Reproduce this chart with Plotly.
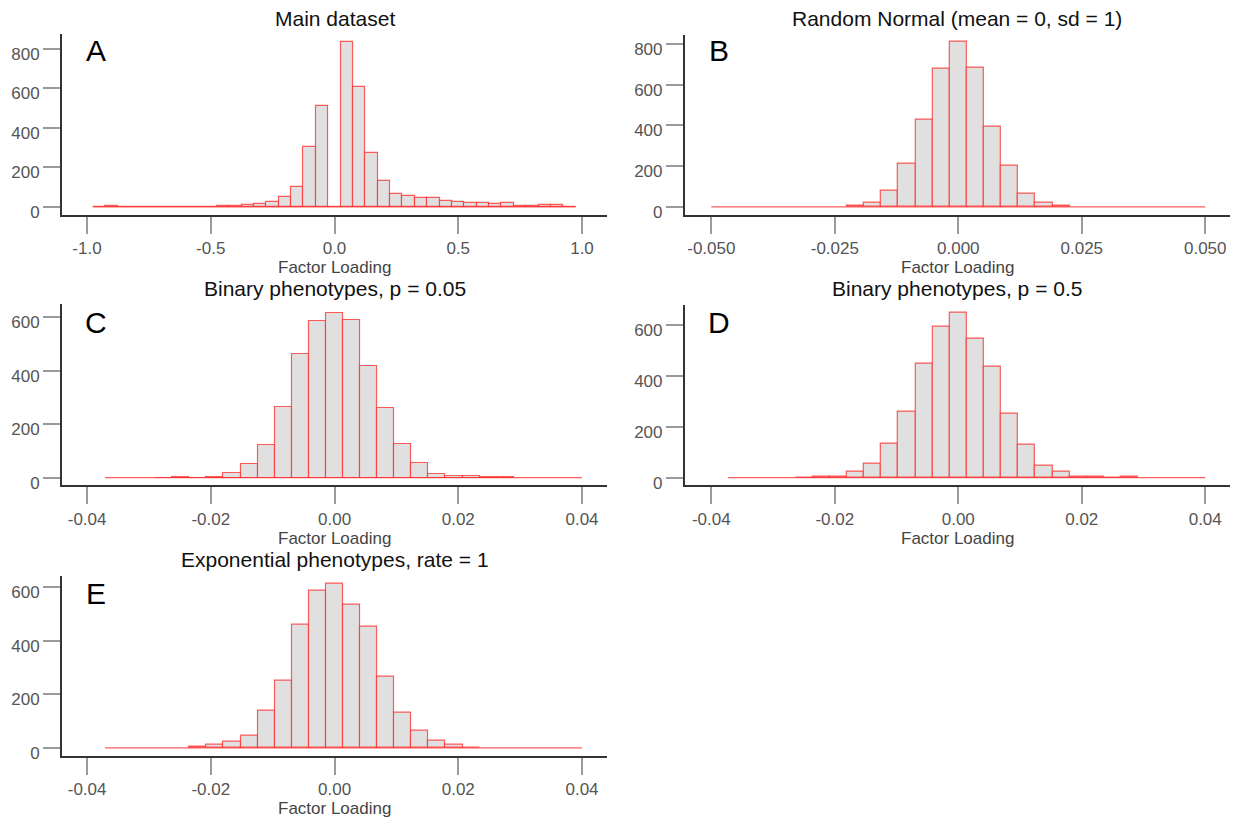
import plotly.graph_objects as go

FONT = "Liberation Sans, Arial, Helvetica, sans-serif"

# ---------------- data (histogram bin counts) ----------------
# Panel A: bins of width 0.05 centred on -0.95 ... 0.95
a_centers = [-0.95, -0.90, -0.85, -0.80, -0.75, -0.70, -0.65, -0.60, -0.55, -0.50,
             -0.45, -0.40, -0.35, -0.30, -0.25, -0.20, -0.15, -0.10, -0.05, 0.00,
             0.05, 0.10, 0.15, 0.20, 0.25, 0.30, 0.35, 0.40, 0.45, 0.50,
             0.55, 0.60, 0.65, 0.70, 0.75, 0.80, 0.85, 0.90, 0.95]
a_counts = [1, 3, 1, 1, 2, 1, 1, 1, 1, 1,
            3, 7, 8, 15, 23, 50, 102, 304, 511, 0,
            833, 606, 270, 132, 67, 55, 47, 43, 32, 25,
            20, 20, 13, 22, 7, 7, 10, 8, 1]
a_width = 0.05
a_span = [-0.975, 0.975]

# Panel B: bin index -6 ... 6
b_bins = [-6, -5, -4, -3, -2, -1, 0, 1, 2, 3, 4, 5, 6]
b_counts = [6, 19, 78, 214, 430, 680, 810, 683, 393, 200, 65, 21, 6]
b_width = 0.003466
b_span = [-0.050, 0.050]

# Panel C: bin index -10 ... 10
c_bins = [-10, -9, -8, -7, -6, -5, -4, -3, -2, -1, 0, 1, 2, 3, 4, 5, 6, 7, 8, 9, 10]
c_counts = [0, 1, 0, 2, 18, 52, 122, 264, 463, 585, 617, 590, 419, 261, 124, 54, 15, 7, 4, 2, 1]
c_width = 0.00276
c_span = [-0.0371, 0.040]

# Panel D: bin index -9 ... 10
d_bins = [-9, -8, -7, -6, -5, -4, -3, -2, -1, 0, 1, 2, 3, 4, 5, 6, 7, 8, 9, 10]
d_counts = [1, 2, 5, 23, 53, 132, 261, 448, 594, 649, 544, 435, 251, 129, 45, 25, 4, 2, 1, 2]
d_width = 0.002773
d_span = [-0.0373, 0.040]

# Panel E: bin index -8 ... 8
e_bins = [-8, -7, -6, -5, -4, -3, -2, -1, 0, 1, 2, 3, 4, 5, 6, 7, 8]
e_counts = [4, 10, 21, 46, 138, 249, 458, 586, 612, 532, 452, 266, 131, 65, 25, 10, 2]
e_width = 0.00276
e_span = [-0.0371, 0.040]

titles = ["Main dataset", "Random Normal (mean = 0, sd = 1)", "Binary phenotypes, p = 0.05",
          "Binary phenotypes, p = 0.5", "Exponential phenotypes, rate = 1"]
letters = ["A", "B", "C", "D", "E"]

a_xticks = [-1.0, -0.5, 0.0, 0.5, 1.0]
a_xlabels = ["-1.0", "-0.5", "0.0", "0.5", "1.0"]
b_xticks = [-0.05, -0.025, 0.0, 0.025, 0.05]
b_xlabels = ["-0.050", "-0.025", "0.000", "0.025", "0.050"]
cde_xticks = [-0.04, -0.02, 0.0, 0.02, 0.04]
cde_xlabels = ["-0.04", "-0.02", "0.00", "0.02", "0.04"]
y_ticks_800 = [0, 200, 400, 600, 800]
y_ticks_600 = [0, 200, 400, 600]

x_axis_label = "Factor Loading"

# ---------------- layout geometry ----------------
W, H = 1237, 824
left_dom = [62.1 / W, 607.0 / W]
right_dom = [684.9 / W, 1230.0 / W]


def ydom(top_px, bottom_px):
    return [1 - bottom_px / H, 1 - top_px / H]


panels = [
    dict(centers=a_centers, counts=a_counts, width=a_width, span=a_span,
         xdom=left_dom, ydom=ydom(34.3, 216.7), xrange=[-1.1006, 1.1010], yrange=[-40, 873.6],
         xticks=a_xticks, xlabels=a_xlabels, yticks=y_ticks_800),
    dict(centers=[k * b_width for k in b_bins], counts=b_counts, width=b_width, span=b_span,
         xdom=right_dom, ydom=ydom(35.0, 216.7), xrange=[-0.05535, 0.05501], yrange=[-38.9, 845],
         xticks=b_xticks, xlabels=b_xlabels, yticks=y_ticks_800),
    dict(centers=[k * c_width for k in c_bins], counts=c_counts, width=c_width, span=c_span,
         xdom=left_dom, ydom=ydom(306.7, 489.3), xrange=[-0.04404, 0.04404], yrange=[-28.2, 649.4],
         xticks=cde_xticks, xlabels=cde_xlabels, yticks=y_ticks_600),
    dict(centers=[k * d_width for k in d_bins], counts=d_counts, width=d_width, span=d_span,
         xdom=right_dom, ydom=ydom(307.3, 489.3), xrange=[-0.04428, 0.04401], yrange=[-29.6, 679.5],
         xticks=cde_xticks, xlabels=cde_xlabels, yticks=y_ticks_600),
    dict(centers=[k * e_width for k in e_bins], counts=e_counts, width=e_width, span=e_span,
         xdom=left_dom, ydom=ydom(580.7, 762.0), xrange=[-0.04404, 0.04404], yrange=[-28.5, 641.8],
         xticks=cde_xticks, xlabels=cde_xlabels, yticks=y_ticks_600),
]

BAR_FILL = "#e0e0e0"
BAR_LINE = "rgba(255,40,40,0.75)"
AXIS_COLOR = "#333333"
TICK_COLOR = "#9a9a9a"
TICKFONT = dict(family=FONT, size=17, color="#555555")

fig = go.Figure()
annotations = []
layout_axes = {}

for i, p in enumerate(panels):
    n = "" if i == 0 else str(i + 1)
    xa, ya = "x" + n, "y" + n
    # zero baseline over the data range
    fig.add_trace(go.Scatter(x=p["span"], y=[0, 0], mode="lines",
                             line=dict(color=BAR_LINE, width=1.2),
                             xaxis=xa, yaxis=ya, hoverinfo="skip", showlegend=False))
    fig.add_trace(go.Bar(x=p["centers"], y=p["counts"], width=p["width"],
                         marker=dict(color=BAR_FILL, line=dict(color=BAR_LINE, width=1.2)),
                         xaxis=xa, yaxis=ya, showlegend=False))
    layout_axes["xaxis" + n] = dict(
        domain=p["xdom"], anchor=ya, range=p["xrange"], showgrid=False, zeroline=False,
        showline=True, linecolor=AXIS_COLOR, linewidth=2,
        ticks="outside", ticklen=17, tickwidth=1.5, tickcolor=TICK_COLOR,
        tickmode="array", tickvals=p["xticks"], ticktext=p["xlabels"],
        tickfont=TICKFONT, fixedrange=True)
    layout_axes["yaxis" + n] = dict(
        domain=p["ydom"], anchor=xa, range=p["yrange"], showgrid=False, zeroline=False,
        showline=True, linecolor=AXIS_COLOR, linewidth=2,
        ticks="outside", ticklen=17, tickwidth=1.5, tickcolor=TICK_COLOR,
        tickmode="array", tickvals=p["yticks"], ticktext=[str(v) for v in p["yticks"]],
        tickfont=TICKFONT, ticklabelshift=5, fixedrange=True)
    xd, yd = xa + " domain", ya + " domain"
    annotations.append(dict(text=titles[i], x=0.5, y=1, xref=xd, yref=yd,
                            xanchor="center", yanchor="middle", yshift=16, showarrow=False,
                            font=dict(family=FONT, size=21, color="#111111")))
    annotations.append(dict(text=letters[i], x=0, y=1, xref=xd, yref=yd,
                            xanchor="center", yanchor="middle", xshift=34,
                            yshift=-16 if i < 2 else -18, showarrow=False,
                            font=dict(family=FONT, size=30, color="#000000")))
    annotations.append(dict(text=x_axis_label, x=0.5, y=0, xref=xd, yref=yd,
                            xanchor="center", yanchor="middle", yshift=-53, showarrow=False,
                            font=dict(family=FONT, size=17, color="#444444")))

fig.update_layout(
    width=W, height=H, margin=dict(l=0, r=0, t=0, b=0),
    paper_bgcolor="white", plot_bgcolor="white",
    bargap=0, showlegend=False, annotations=annotations,
    font=dict(family=FONT),
    **layout_axes,
)

fig.write_html("out.html")
